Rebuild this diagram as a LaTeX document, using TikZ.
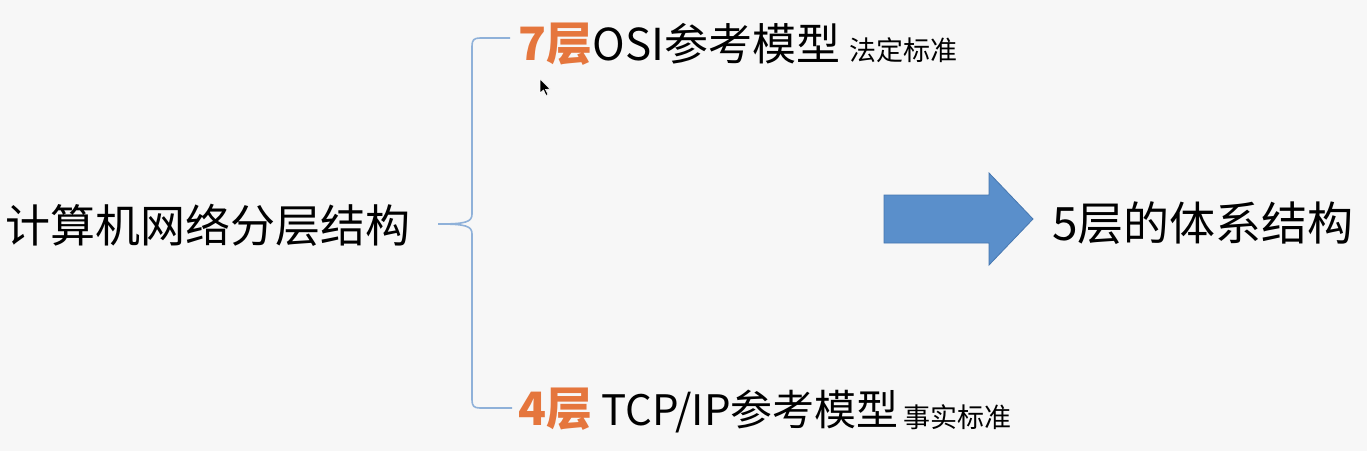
\documentclass[tikz,border=0pt]{standalone}
\usepackage{fontspec}
\setmainfont{Noto Sans CJK SC}
\definecolor{bg}{HTML}{F7F7F7}
\definecolor{orng}{HTML}{E5763D}
\definecolor{brk}{HTML}{8FB1D9}
\definecolor{arrfill}{HTML}{5A8FCB}
\definecolor{arredge}{HTML}{4677B0}
\tikzset{
  txt/.style={inner sep=0pt, anchor=base west, text=black},
  bigfont/.style={font=\fontsize{44}{50}\selectfont},
  smallfont/.style={font=\fontsize{27}{30}\selectfont},
  brace/.style={draw=brk, line width=1.6pt},
  bigarrow/.style={fill=arrfill, draw=arredge, line width=0.8pt}
}
\begin{document}
\begin{tikzpicture}[x=1pt,y=-1pt]
\useasboundingbox (0,0) rectangle (1367,451);
\fill[bg] (0,0) rectangle (1367,451);

% left title
\node[txt, font=\fontsize{45}{50}\selectfont] (root) at (5,242) {计算机网络分层结构};

% top line
\node[txt, text=orng, font=\fontsize{46}{50}\bfseries\selectfont] (seven) at (518,60) {7层};
\node[txt, bigfont, anchor=base west] (osi) at (seven.base east) {OSI参考模型};
\node[txt, smallfont, anchor=base west] (osis) at ([xshift=9pt]osi.base east) {法定标准};

% bottom line
\node[txt, text=orng, font=\fontsize{46}{50}\bfseries\selectfont] (four) at (518,425) {4层};
\node[txt, font=\fontsize{42}{50}\selectfont, anchor=base west] (tcp) at ([xshift=9pt]four.base east) {TCP/IP参考模型};
\node[txt, smallfont, anchor=base west] (tcps) at ([xshift=4pt, yshift=-2pt]tcp.base east) {事实标准};

% right result
\node[txt, font=\fontsize{46}{50}\selectfont] (five) at (1052,240) {5层的体系结构};

% brace
\coordinate (btop) at (510,38);
\coordinate (bbot) at (512,408);
\coordinate (btip) at (438,224);
\draw[brace] (btop) -- (480,38) .. controls (474,38) and (472,40) .. (472,46)
  -- (472,214) .. controls (472,222) and (466,224) .. (btip)
  .. controls (466,224) and (472,226) .. (472,234)
  -- (472,400) .. controls (472,406) and (474,408) .. (480,408) -- (bbot);

% big arrow
\draw[bigarrow] (884,195) -- (989,195) -- (989,173) -- (1033,219) -- (989,265) -- (989,243) -- (884,243) -- cycle;

% mouse cursor
\fill[black, draw=white, line width=0.6pt] (540,79) -- (540,93) -- (543.5,90) -- (546,95.5) -- (548,94.5) -- (545.5,89.5) -- (550,89) -- cycle;
\end{tikzpicture}
\end{document}
